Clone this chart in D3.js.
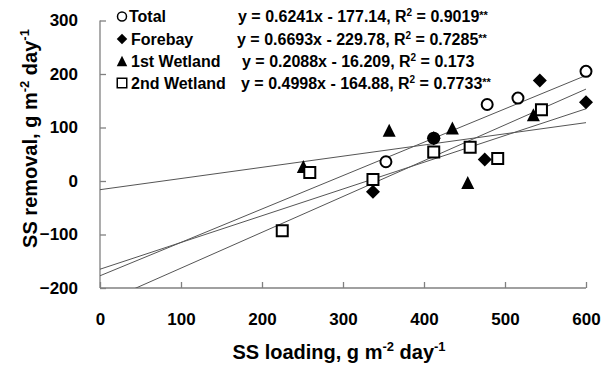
<!DOCTYPE html>
<html>
<head>
<meta charset="utf-8">
<script src="https://cdn.jsdelivr.net/npm/d3@7"></script>
<style>
  body { margin: 0; background: #fff; }
  svg { display: block; font-family: Arial, "Liberation Sans", sans-serif; font-weight: bold; }
</style>
</head>
<body>
<svg id="chart" width="612" height="370"></svg>
<script>
// data
const xTicks = [0, 100, 200, 300, 400, 500, 600];
const yTicks = [-200, -100, 0, 100, 200, 300];

const seriesNames = ['Total', 'Forebay', '1st Wetland', '2nd Wetland'];
const seriesShapes = ['circle', 'diamond', 'triangle', 'square'];

const totalX = [353, 412, 478, 516, 600];
const totalY = [36, 80, 143, 155, 205];
const forebayX = [337, 412, 475, 543, 600];
const forebayY = [-20, 80, 40, 188, 147];
const wet1X = [251, 357, 435, 454, 535];
const wet1Y = [27, 95, 99, -3, 124];
const wet2X = [225, 259, 337, 412, 457, 491, 545];
const wet2Y = [-93, 16, 3, 54, 63, 42, 133];

// trendlines  y = slope * x + intercept
const slopes = [0.6241, 0.6693, 0.2088, 0.4998];
const intercepts = [-177.14, -229.78, -16.209, -164.88];
const slopeTxt = ['0.6241', '0.6693', '0.2088', '0.4998'];
const interceptTxt = ['177.14', '229.78', '16.209', '164.88'];
const r2Txt = ['0.9019', '0.7285', '0.173', '0.7733'];
const r2Stars = ['**', '**', '', '**'];

const seriesX = [totalX, forebayX, wet1X, wet2X];
const seriesY = [totalY, forebayY, wet1Y, wet2Y];

const svg = d3.select('#chart');
const margin = { left: 100, right: 26, top: 20.5, bottom: 82 };
const W = 612, H = 370;

const x = d3.scaleLinear().domain([0, 600]).range([margin.left, W - margin.right]);
const y = d3.scaleLinear().domain([-200, 300]).range([H - margin.bottom, margin.top]);

// marker path builder, s = overall size in px
function shapePath(shape, s) {
    const h = s / 2;
    if (shape === 'circle') {
        return `M${h},0A${h},${h} 0 1,1 ${-h},0A${h},${h} 0 1,1 ${h},0Z`;
    }
    if (shape === 'diamond') return `M0,${-h}L${h},0L0,${h}L${-h},0Z`;
    if (shape === 'triangle') return `M0,${-h}L${h},${h}L${-h},${h}Z`;
    return `M${-h},${-h}H${h}V${h}H${-h}Z`;
}
const filled = { circle: false, diamond: true, triangle: true, square: false };

svg.append('defs').append('clipPath').attr('id', 'plotClip')
    .append('rect')
    .attr('x', x(0)).attr('y', y(300))
    .attr('width', x(600) - x(0)).attr('height', y(-200) - y(300));

// axes
const xAxis = svg.append('g')
    .attr('transform', `translate(0,${y(-200)})`)
    .call(d3.axisBottom(x).tickValues(xTicks).tickSize(-6).tickPadding(25));
const yAxis = svg.append('g')
    .attr('transform', `translate(${x(0)},0)`)
    .call(d3.axisLeft(y).tickValues(yTicks).tickSize(-6).tickPadding(22));

[xAxis, yAxis].forEach(ax => {
    ax.select('.domain').attr('stroke', '#808080').attr('stroke-width', 1.3);
    ax.selectAll('.tick line').attr('stroke', '#808080').attr('stroke-width', 1.3);
    ax.selectAll('.tick text')
        .attr('fill', '#000')
        .style('font-size', '17px')
        .style('font-weight', 'bold')
        .style('font-family', 'Arial, "Liberation Sans", sans-serif');
});
// axisLeft draws the domain with outer ticks, remove them
xAxis.select('.domain').attr('d', `M${x(0)},0H${x(600)}`);
yAxis.select('.domain').attr('d', `M0,${y(-200)}V${y(300)}`);

// trendlines
const lineGen = d3.line().x(d => x(d[0])).y(d => y(d[1]));
svg.append('g').attr('clip-path', 'url(#plotClip)')
    .selectAll('path.trend')
    .data(slopes)
    .enter()
    .append('path')
    .attr('class', 'trend')
    .attr('d', (s, i) => lineGen([0, 600].map(v => [v, s * v + intercepts[i]])))
    .attr('fill', 'none')
    .attr('stroke', '#555')
    .attr('stroke-width', 1);

// markers
seriesX.forEach((xs, i) => {
    const shape = seriesShapes[i];
    const pts = xs.map((v, j) => [v, seriesY[i][j]]);
    svg.append('g')
        .selectAll('path')
        .data(pts)
        .enter()
        .append('path')
        .attr('transform', d => `translate(${x(d[0])},${y(d[1])})`)
        .attr('d', shapePath(shape, shape === 'diamond' ? 14 : shape === 'triangle' ? 13 : 11))
        .attr('fill', filled[shape] ? '#000' : '#fff')
        .attr('stroke', '#000')
        .attr('stroke-width', filled[shape] ? 0 : 2);
});

// legend
const legend = svg.append('g');
const rowY = [22, 44.5, 66.5, 88.5];
const eqX = [238, 237, 242, 241];
seriesNames.forEach((name, i) => {
    const shape = seriesShapes[i];
    legend.append('path')
        .attr('transform', `translate(122,${rowY[i] - 5.5})`)
        .attr('d', shapePath(shape, shape === 'circle' ? 9 : shape === 'square' ? 9.5 : 10.5))
        .attr('fill', filled[shape] ? '#000' : '#fff')
        .attr('stroke', '#000')
        .attr('stroke-width', filled[shape] ? 0 : 1.5);
    legend.append('text')
        .attr('x', shape === 'circle' ? 129 : 131)
        .attr('y', rowY[i])
        .style('font-size', '16px')
        .text(name);

    const eq = legend.append('text')
        .attr('x', eqX[i])
        .attr('y', rowY[i])
        .style('font-size', '16px');
    eq.append('tspan').text(`y = ${slopeTxt[i]}x - ${interceptTxt[i]}, R`);
    eq.append('tspan').attr('dy', -6).style('font-size', '10px').text('2');
    eq.append('tspan').attr('dy', 6).text(` = ${r2Txt[i]}`);
    if (r2Stars[i]) eq.append('tspan').attr('dy', -3).style('font-size', '11px').text(r2Stars[i]);
});

// axis titles
const xTitle = svg.append('text')
    .attr('x', 339)
    .attr('y', 359)
    .attr('text-anchor', 'middle')
    .style('font-size', '20px');
xTitle.append('tspan').text('SS loading, g m');
xTitle.append('tspan').attr('dy', -8).style('font-size', '13px').text('-2');
xTitle.append('tspan').attr('dy', 8).text(' day');
xTitle.append('tspan').attr('dy', -8).style('font-size', '13px').text('-1');

const yTitle = svg.append('text')
    .attr('transform', 'translate(37,138.5) rotate(-90)')
    .attr('text-anchor', 'middle')
    .style('font-size', '20px');
yTitle.append('tspan').text('SS removal, g m');
yTitle.append('tspan').attr('dy', -8).style('font-size', '13px').text('-2');
yTitle.append('tspan').attr('dy', 8).text(' day');
yTitle.append('tspan').attr('dy', -8).style('font-size', '13px').text('-1');
</script>
</body>
</html>
